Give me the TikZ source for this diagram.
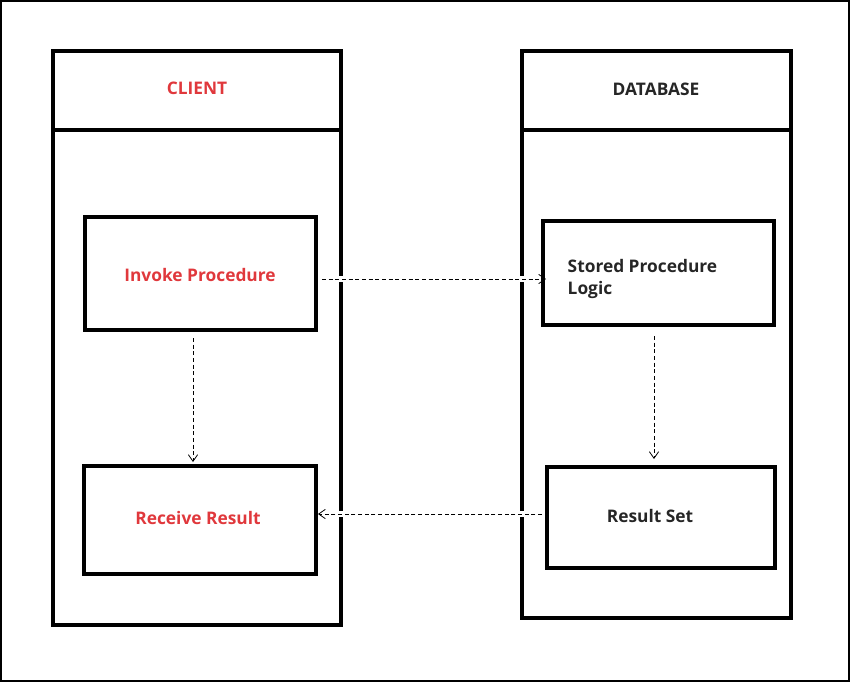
\documentclass[tikz,border=0pt]{standalone}
\usepackage{fontspec}
\setmainfont{Open Sans}
\usetikzlibrary{arrows.meta}
\definecolor{myred}{HTML}{E0383C}
\begin{document}
\begin{tikzpicture}[x=0.75pt,y=-0.75pt,
  box/.style={draw,line width=2.3pt},
  lbl/.style={font=\fontsize{13}{16}\selectfont\bfseries,text=black!85},
  red/.style={text=myred},
  conn/.style={draw,densely dashed,line width=0.6pt,-{Straight Barb[length=5pt,width=7pt]},
     preaction={draw=white,solid,line width=5pt,-,shorten >=3pt}}]
\useasboundingbox (0,0) rectangle (850,682);
\draw[line width=2pt] (1,1) rectangle (849,681);
% lanes
\draw[box] (53,51) rectangle (341,625);
\draw[box] (53,130) -- (341,130);
\draw[box] (522,51) rectangle (791,618);
\draw[box] (522,130) -- (791,130);
\node[lbl,red] (client) at (197,88) {CLIENT};
\node[lbl] (db) at (656,89) {DATABASE};
% boxes
\draw[box] (85,217) rectangle (316,330);
\node[lbl,red] (invoke) at (200,275) {Invoke Procedure};
\draw[box] (84,466) rectangle (316,574);
\node[lbl,red] (receive) at (198,518) {Receive Result};
\draw[box] (543,221) rectangle (774,325);
\node[lbl,align=left,anchor=west] (stored) at (563,279) {Stored Procedure\\Logic};
\draw[box] (547,467) rectangle (775,568);
\node[lbl] (result) at (650,516) {Result Set};
\coordinate (a1) at (322,279); \coordinate (a2) at (546,279);
\coordinate (b1) at (193,338); \coordinate (b2) at (193,462);
\coordinate (c1) at (654,336); \coordinate (c2) at (654,459);
\coordinate (d1) at (542,514); \coordinate (d2) at (318,514);
\draw[conn] (a1) -- (a2);
\draw[conn] (b1) -- (b2);
\draw[conn] (c1) -- (c2);
\draw[conn] (d1) -- (d2);
\draw[box] (543,221) -- (543,325);
\draw[box] (316,466) -- (316,574);
\end{tikzpicture}
\end{document}
